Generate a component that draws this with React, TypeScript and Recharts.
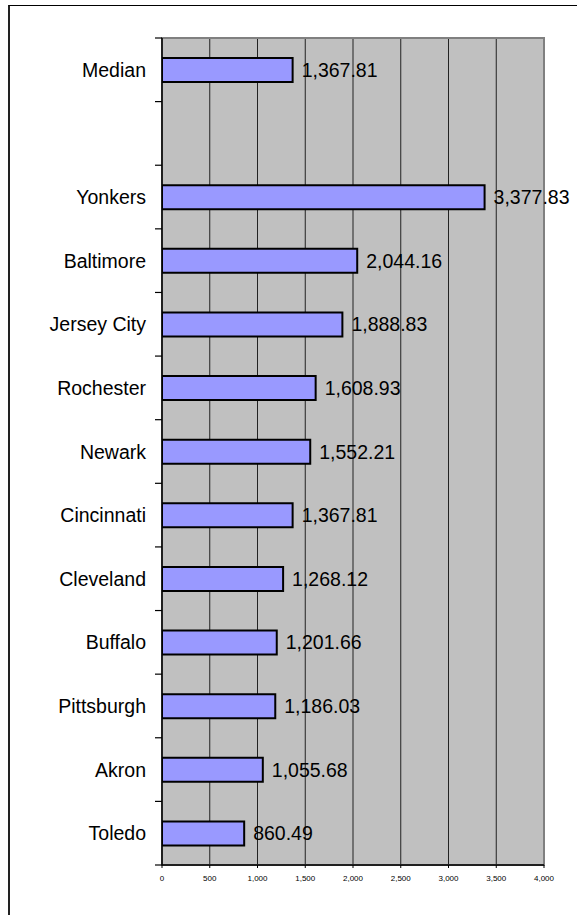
import React from "react";
import {
  Bar,
  BarChart,
  CartesianGrid,
  LabelList,
  ReferenceArea,
  XAxis,
  YAxis,
} from "recharts";

// categories top to bottom; the empty one is the gap under Median
const cities = [
  "Median",
  "",
  "Yonkers",
  "Baltimore",
  "Jersey City",
  "Rochester",
  "Newark",
  "Cincinnati",
  "Cleveland",
  "Buffalo",
  "Pittsburgh",
  "Akron",
  "Toledo",
];
const amounts: (number | null)[] = [
  1367.81, null, 3377.83, 2044.16, 1888.83, 1608.93, 1552.21, 1367.81, 1268.12, 1201.66,
  1186.03, 1055.68, 860.49,
];
const xTicks = [0, 500, 1000, 1500, 2000, 2500, 3000, 3500, 4000];

const data = cities.map((name, i) => ({ name, value: amounts[i] }));

const FONT = '"Liberation Sans", Arial, sans-serif';
const W = 577;
const H = 915;
const MARGIN = { top: 38, right: 33, bottom: 20, left: 0 };
const X_AXIS_H = 30;
const plotHeight = H - MARGIN.top - MARGIN.bottom - X_AXIS_H;
const slot = plotHeight / cities.length;

const fmtComma = (v: number) => v.toLocaleString("en-US");
const fmtValue = (v: unknown) =>
  v == null
    ? ""
    : Number(v).toLocaleString("en-US", { minimumFractionDigits: 2, maximumFractionDigits: 2 });

/** category label plus tick marks on the band edges (Excel style) */
function CityTick(props: any) {
  const { x, y, payload, index } = props;
  const isLast = index === cities.length - 1;
  return (
    <g>
      <line x1={x - 7} x2={x} y1={y - slot / 2} y2={y - slot / 2} stroke="#000" strokeWidth={1.2} />
      {isLast && (
        <line x1={x - 7} x2={x} y1={y + slot / 2} y2={y + slot / 2} stroke="#000" strokeWidth={1.2} />
      )}
      <text
        x={x - 16}
        y={y}
        dy="0.36em"
        textAnchor="end"
        fontSize={19.5}
        fontFamily={FONT}
        fill="#000"
      >
        {payload.value}
      </text>
    </g>
  );
}

export default function App() {
  return (
    <div
      style={{
        position: "absolute",
        left: 0,
        top: 0,
        width: W,
        height: H,
        overflow: "hidden",
        background: "#fff",
      }}
    >
      <div
        style={{
          position: "absolute",
          left: 8,
          top: 5,
          width: 700,
          height: 1000,
          borderTop: "1.5px solid #000",
          borderLeft: "2px solid #222",
        }}
      />
      <div style={{ position: "absolute", left: 0, top: 0 }}>
        <BarChart width={W} height={H} data={data} layout="vertical" margin={MARGIN}>
          <CartesianGrid
            horizontal={false}
            vertical
            fill="#C0C0C0"
            fillOpacity={1}
            stroke="#222"
            strokeWidth={1}
          />
          <ReferenceArea
            x1={0}
            x2={4000}
            fill="none"
            stroke="#808080"
            strokeWidth={2}
            ifOverflow="visible"
          />
          <XAxis
            type="number"
            domain={[0, 4000]}
            ticks={xTicks}
            tickFormatter={fmtComma}
            height={X_AXIS_H}
            tickSize={3}
            tickMargin={7}
            tick={{ fontSize: 8, fontFamily: FONT, fill: "#000" }}
            axisLine={{ stroke: "#000", strokeWidth: 1.5 }}
            tickLine={{ stroke: "#000" }}
            allowDataOverflow
          />
          <YAxis
            type="category"
            dataKey="name"
            width={162}
            interval={0}
            tickLine={false}
            tickSize={0}
            tickMargin={0}
            axisLine={{ stroke: "#000", strokeWidth: 1.5 }}
            tick={<CityTick />}
          />
          <Bar
            dataKey="value"
            fill="#9999FF"
            stroke="#000"
            strokeWidth={2}
            barSize={24}
            isAnimationActive={false}
          >
            <LabelList
              dataKey="value"
              position="right"
              offset={9}
              formatter={fmtValue}
              style={{ fontSize: 19.5, fontFamily: FONT, fill: "#000" }}
            />
          </Bar>
        </BarChart>
      </div>
    </div>
  );
}
